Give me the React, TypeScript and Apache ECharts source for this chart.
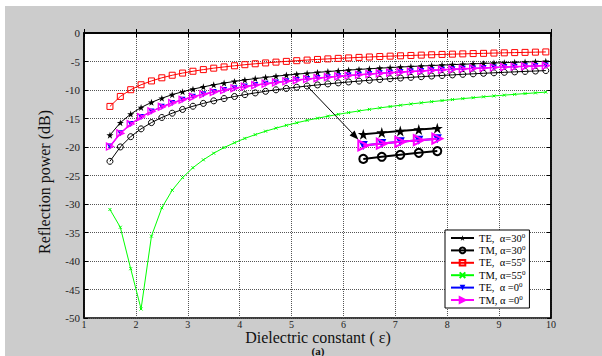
import React, { useEffect, useRef } from 'react';
import * as echarts from 'echarts';

// Dielectric constant samples
const eps = [1.5, 1.7, 1.9, 2.1, 2.3, 2.5, 2.7, 2.9, 3.1, 3.3, 3.5, 3.7, 3.9, 4.1, 4.3, 4.5, 4.7, 4.9, 5.1, 5.3, 5.5, 5.7, 5.9, 6.1, 6.3, 6.5, 6.7, 6.9, 7.1, 7.3, 7.5, 7.7, 7.9, 8.1, 8.3, 8.5, 8.7, 8.9, 9.1, 9.3, 9.5, 9.7, 9.9];

// Reflection power (dB)
const te30 = [-17.92, -15.74, -14.22, -13.07, -12.17, -11.44, -10.82, -10.30, -9.85, -9.45, -9.09, -8.78, -8.49, -8.23, -8.00, -7.78, -7.58, -7.39, -7.22, -7.06, -6.91, -6.77, -6.63, -6.51, -6.39, -6.28, -6.17, -6.07, -5.97, -5.88, -5.79, -5.71, -5.63, -5.55, -5.48, -5.41, -5.34, -5.27, -5.21, -5.15, -5.09, -5.03, -4.97];
const tm30 = [-22.51, -19.99, -18.19, -16.82, -15.72, -14.82, -14.07, -13.41, -12.85, -12.35, -11.90, -11.50, -11.14, -10.81, -10.51, -10.23, -9.97, -9.73, -9.51, -9.30, -9.11, -8.93, -8.75, -8.59, -8.44, -8.29, -8.15, -8.02, -7.90, -7.78, -7.66, -7.55, -7.45, -7.35, -7.25, -7.16, -7.07, -6.98, -6.90, -6.82, -6.74, -6.67, -6.59];
const te55 = [-12.88, -11.13, -9.95, -9.08, -8.41, -7.86, -7.41, -7.03, -6.71, -6.42, -6.17, -5.95, -5.75, -5.56, -5.40, -5.25, -5.11, -4.98, -4.86, -4.75, -4.64, -4.54, -4.45, -4.37, -4.28, -4.21, -4.13, -4.06, -4.00, -3.94, -3.88, -3.82, -3.76, -3.71, -3.66, -3.61, -3.57, -3.52, -3.48, -3.44, -3.40, -3.36, -3.32];
const tm55 = [-30.96, -34.08, -41.35, -48.42, -35.64, -30.67, -27.58, -25.36, -23.63, -22.25, -21.09, -20.10, -19.25, -18.49, -17.83, -17.23, -16.69, -16.20, -15.75, -15.33, -14.95, -14.60, -14.27, -13.96, -13.67, -13.40, -13.14, -12.90, -12.67, -12.45, -12.25, -12.05, -11.86, -11.68, -11.51, -11.35, -11.19, -11.04, -10.90, -10.76, -10.63, -10.50, -10.37];
const te0 = [-19.91, -17.60, -15.97, -14.73, -13.75, -12.95, -12.28, -11.70, -11.20, -10.75, -10.36, -10.01, -9.69, -9.40, -9.14, -8.89, -8.67, -8.46, -8.26, -8.08, -7.91, -7.75, -7.60, -7.46, -7.33, -7.20, -7.08, -6.96, -6.85, -6.75, -6.65, -6.55, -6.46, -6.38, -6.29, -6.21, -6.13, -6.06, -5.98, -5.92, -5.85, -5.78, -5.72];
const tm0 = [-19.91, -17.60, -15.97, -14.73, -13.75, -12.95, -12.28, -11.70, -11.20, -10.75, -10.36, -10.01, -9.69, -9.40, -9.14, -8.89, -8.67, -8.46, -8.26, -8.08, -7.91, -7.75, -7.60, -7.46, -7.33, -7.20, -7.08, -6.96, -6.85, -6.75, -6.65, -6.55, -6.46, -6.38, -6.29, -6.21, -6.13, -6.06, -5.98, -5.92, -5.85, -5.78, -5.72];

// indices of samples shown magnified in the inset (eps 5.3 .. 6.1)
const insetIdx = [19, 20, 21, 22, 23];

const seriesNames = ['TE30', 'TM30', 'TE55', 'TM55', 'TE0', 'TM0'];
const legendLabels = ['TE,  α=30{s|0}', 'TM, α=30{s|0}', 'TE,  α=55{s|0}', 'TM, α=55{s|0}', 'TE,  α =0{s|0}', 'TM, α =0{s|0}'];

const STAR = 'path://M50,0L61.2,34.5L97.6,34.5L68.2,55.9L79.4,90.5L50,69.1L20.6,90.5L31.8,55.9L2.4,34.5L38.8,34.5Z';
const XMARK = 'path://M0,0L10,10M10,0L0,10';
const FONT = '"Liberation Serif", "DejaVu Serif", serif';

export default function App() {
  const ref = useRef<HTMLDivElement>(null);
  useEffect(() => {
    const chart = echarts.init(ref.current!, null, { renderer: 'svg' });
    const pts = (ys: number[]) => eps.map((x, i) => [x, ys[i]]);
    const ipts = (ys: number[]) => insetIdx.map((i) => [eps[i], ys[i]]);
    const clear = 'rgba(0,0,0,0)';

    const styles: any[] = [
      { symbol: STAR, size: 7, isize: 11, item: { color: '#000' }, line: '#000', lw: 1 },
      { symbol: 'circle', size: 6, isize: 8, item: { color: clear, borderColor: '#000', borderWidth: 1 }, line: '#000', lw: 1 },
      { symbol: 'rect', size: 6, isize: 7, item: { color: clear, borderColor: '#ff0000', borderWidth: 1 }, line: '#ff0000', lw: 1 },
      { symbol: XMARK, size: 3, isize: 3, item: { color: clear, borderColor: '#00ff00', borderWidth: 1 }, line: '#00ff00', lw: 1 },
      { symbol: 'triangle', rot: 180, size: 6, isize: 9, item: { color: '#0000ff' }, line: '#0000ff', lw: 1 },
      { symbol: 'triangle', rot: -90, size: 7, isize: 10, item: { color: clear, borderColor: '#ff00ff', borderWidth: 1.3 }, line: '#ff00ff', lw: 1.5 },
    ];
    const allData = [te30, tm30, te55, tm55, te0, tm0];

    const mainSeries = allData.map((d, k) => ({
      name: seriesNames[k],
      type: 'line',
      xAxisIndex: 0,
      yAxisIndex: 0,
      data: pts(d),
      symbol: styles[k].symbol,
      symbolRotate: styles[k].rot || 0,
      symbolSize: styles[k].size,
      showAllSymbol: true,
      itemStyle: styles[k].item,
      lineStyle: { color: styles[k].line, width: styles[k].lw },
      z: 3 + k,
    }));
    const insetKeys = [0, 1, 4, 5];
    const insetSeries = insetKeys.map((k) => ({
      name: 'inset-' + seriesNames[k],
      type: 'line',
      xAxisIndex: 2,
      yAxisIndex: 2,
      data: ipts(allData[k]),
      symbol: styles[k].symbol,
      symbolRotate: styles[k].rot || 0,
      symbolSize: styles[k].isize,
      itemStyle: { ...styles[k].item, borderWidth: styles[k].item.borderWidth ? 2 : 0 },
      lineStyle: { color: styles[k].line, width: 2 },
      clip: false,
      z: 10 + k,
    }));

    const tickStyle = { inside: true, length: 4, lineStyle: { color: '#000', width: 1 } };
    const gridLine = { show: true, lineStyle: { color: '#555', type: 'dotted', width: 1 } };
    const axisLine = { show: true, lineStyle: { color: '#000', width: 1.5 } };

    const baseGraphics: any[] = [
      { type: 'rect', shape: { x: 0, y: 0, width: 602, height: 6 }, style: { fill: '#fff' }, silent: true },
      { type: 'rect', shape: { x: 0, y: 0, width: 5, height: 356 }, style: { fill: '#fff' }, silent: true },
      {
        type: 'text', x: 44, y: 182, rotation: Math.PI / 2,
        style: { text: 'Reflection power (dB)', fontFamily: FONT, fontSize: 16, fill: '#111', align: 'center', verticalAlign: 'middle' },
      },
      {
        type: 'text', x: 318, y: 337,
        style: { text: 'Dielectric constant ( ε)', fontFamily: FONT, fontSize: 16, fill: '#111', align: 'center', verticalAlign: 'middle' },
      },
      {
        type: 'text', x: 318, y: 350.5,
        style: { text: '(a)', fontFamily: FONT, fontSize: 11, fontWeight: 'bold', fill: '#111', align: 'center', verticalAlign: 'middle' },
      },
    ];

    const option: any = {
      animation: false,
      backgroundColor: '#cccccc',
      grid: [
        { left: 84, top: 33, width: 467, height: 285, show: true, backgroundColor: '#fff', borderColor: '#000', borderWidth: 1.5 },
        { left: 357, top: 118, width: 90, height: 42, show: false },
      ],
      xAxis: [
        {
          type: 'value', gridIndex: 0, position: 'bottom', min: 1, max: 10, interval: 1,
          axisLine, axisTick: tickStyle, splitLine: gridLine,
          axisLabel: { color: '#222', fontFamily: FONT, fontSize: 10, margin: 1 },
        },
        {
          type: 'value', gridIndex: 0, position: 'top', min: 1, max: 10, interval: 1,
          axisLine, axisTick: tickStyle, splitLine: { show: false }, axisLabel: { show: false },
        },
        { type: 'value', gridIndex: 1, min: 5.232, max: 6.205, show: false },
      ],
      yAxis: [
        {
          type: 'value', gridIndex: 0, position: 'left', min: -50, max: 0, interval: 5,
          axisLine, axisTick: tickStyle, splitLine: gridLine,
          axisLabel: { color: '#222', fontFamily: FONT, fontSize: 11, margin: 4 },
        },
        {
          type: 'value', gridIndex: 0, position: 'right', min: -50, max: 0, interval: 5,
          axisLine, axisTick: tickStyle, splitLine: { show: false }, axisLabel: { show: false },
        },
        { type: 'value', gridIndex: 1, min: -9.4, max: -5.58, show: false },
      ],
      legend: {
        data: seriesNames,
        orient: 'vertical',
        left: 445,
        top: 230,
        padding: [2, 4, 2, 5],
        itemGap: 0.4,
        itemWidth: 23,
        itemHeight: 7,
        selectedMode: false,
        backgroundColor: '#fff',
        borderColor: '#000',
        borderWidth: 1,
        borderRadius: 0,
        formatter: (n: string) => legendLabels[seriesNames.indexOf(n)],
        textStyle: {
          fontFamily: FONT, fontSize: 10.5, color: '#000', lineHeight: 12,
          rich: { s: { fontFamily: FONT, fontSize: 7, lineHeight: 7, verticalAlign: 'top', color: '#000' } },
        },
      },
      series: [...mainSeries, ...insetSeries],
      graphic: baseGraphics,
    };
    chart.setOption(option);

    // arrow from the curve to the magnified inset
    const p0 = chart.convertToPixel({ gridIndex: 0 }, [eps[insetIdx[0]], tm30[insetIdx[0]]]) as number[];
    const q = chart.convertToPixel({ gridIndex: 1 }, [eps[insetIdx[0]], tm0[insetIdx[0]]]) as number[];
    const tip = [q[0] - 5, q[1] - 6];
    const dx = tip[0] - p0[0];
    const dy = tip[1] - p0[1];
    const len = Math.sqrt(dx * dx + dy * dy);
    const ux = dx / len, uy = dy / len;
    const L = 9, W = 3.5;
    const bx = tip[0] - ux * L, by = tip[1] - uy * L;
    const arrow = [
      { type: 'line', shape: { x1: p0[0], y1: p0[1], x2: bx, y2: by }, style: { stroke: '#000', lineWidth: 1 }, z: 20 },
      {
        type: 'polygon',
        shape: { points: [tip, [bx - uy * W, by + ux * W], [bx + uy * W, by - ux * W]] },
        style: { fill: '#000' },
        z: 20,
      },
    ];
    chart.setOption({ graphic: [...baseGraphics, ...arrow] });

    return () => chart.dispose();
  }, []);
  return <div ref={ref} style={{ position: 'fixed', left: 0, top: 0, width: 602, height: 356 }} />;
}
